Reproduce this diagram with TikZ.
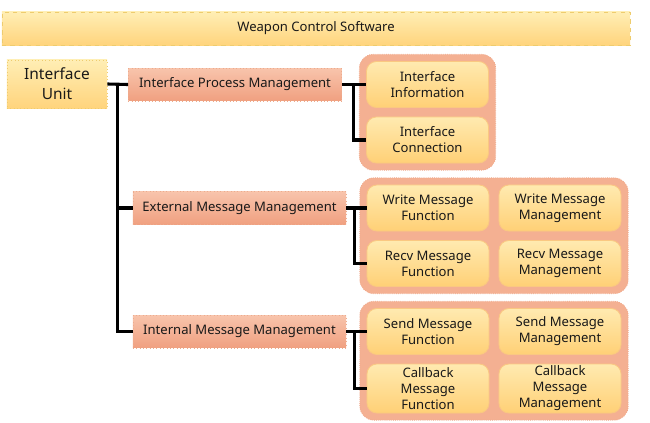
\documentclass[tikz,border=0pt]{standalone}
\usepackage{fontspec}
\setmainfont{Noto Sans}
\usetikzlibrary{calc,fit,backgrounds}
\definecolor{bannertop}{RGB}{255,238,180}
\definecolor{bannerbot}{RGB}{255,212,125}
\definecolor{bannerline}{RGB}{238,204,110}
\definecolor{salmontop}{RGB}{248,196,172}
\definecolor{salmonbot}{RGB}{240,160,128}
\definecolor{salmonline}{RGB}{236,172,142}
\definecolor{groupfill}{RGB}{244,176,146}
\definecolor{groupline}{RGB}{238,165,135}
\definecolor{itemtop}{RGB}{255,234,176}
\definecolor{itembot}{RGB}{255,208,118}
\definecolor{itemline}{RGB}{250,200,130}
\definecolor{textdark}{RGB}{25,25,25}

\tikzset{
  banner/.style={draw=bannerline,dashed,line width=0.4pt,top color=bannertop,bottom color=bannerbot,
    minimum width=15.7cm,minimum height=0.825cm,text=textdark,font=\fontsize{9.3}{11.4}\selectfont},
  unitbox/.style={draw=bannerline,dotted,line width=0.4pt,top color=bannertop,bottom color=bannerbot,
    minimum width=2.5cm,minimum height=1.2cm,align=center,text=textdark,font=\fontsize{11}{14}\selectfont},
  mgmtbox/.style={draw=salmonline,dotted,line width=0.4pt,top color=salmontop,bottom color=salmonbot,
    minimum width=5.33cm,minimum height=0.82cm,text=textdark,font=\fontsize{9.3}{11.4}\selectfont},
  itembox/.style={draw=itemline,line width=0.6pt,rounded corners=7pt,top color=itemtop,bottom color=itembot,
    minimum width=3.05cm,minimum height=1.15cm,inner sep=1pt,align=center,text=textdark,
    font=\fontsize{9.3}{11.4}\selectfont},
  grpbox/.style={draw=groupline,densely dotted,line width=0.5pt,fill=groupfill,rounded corners=10pt,inner sep=0.17cm},
  link/.style={black,line width=2.2pt}
}

\begin{document}
\begin{tikzpicture}[x=0.025cm,y=-0.025cm]
  \useasboundingbox (0,0) rectangle (650,422);

  % --- title ---
  \node[banner] (wcs) at (316,28.5) {Weapon Control Software};

  % --- left column ---
  \node[unitbox] (iu) at (57,84) {Interface\\Unit};
  \node[mgmtbox] (ipm) at (235,84.5) {Interface Process Management};
  \node[mgmtbox] (emm) at (239.5,208) {External Message Management};
  \node[mgmtbox] (imm) at (239.5,331.5) {Internal Message Management};

  % --- interface process items ---
  \node[itembox] (ii) at (427.5,84.5) {Interface\\Information};
  \node[itembox] (ic) at (427.5,140) {Interface\\Connection};

  % --- external message items ---
  \node[itembox] (wmf) at (428,208) {Write Message\\Function};
  \node[itembox] (wmm) at (560,208) {Write Message\\Management};
  \node[itembox] (rmf) at (428,263.5) {Recv Message\\Function};
  \node[itembox] (rmm) at (560,263.5) {Recv Message\\Management};

  % --- internal message items ---
  \node[itembox] (smf) at (428,331.5) {Send Message\\Function};
  \node[itembox] (smm) at (560,331.5) {Send Message\\Management};
  \node[itembox,minimum height=1.225cm] (cmf) at (428,388.5) {Callback\\Message\\Function};
  \node[itembox,minimum height=1.225cm] (cmm) at (560,388.5) {Callback\\Message\\Management};

  % --- group panels ---
  \begin{scope}[on background layer]
    \node[grpbox,fit=(ii)(ic)] (grpip) {};
    \node[grpbox,fit=(wmf)(rmm)] (grpem) {};
    \node[grpbox,fit=(smf)(cmm)] (grpim) {};
  \end{scope}

  % --- tree connectors ---
  \coordinate (trunk) at ($(iu.east)!0.5!(ipm.west)$);
  \draw[link] (iu.east) -- (ipm.west);
  \draw[link] (trunk) |- (emm.west);
  \draw[link] (trunk) |- (imm.west);

  \draw[link] (ipm.east) -- (ipm.east -| ii.west);
  \draw[link] (ipm.east) ++(12,0) |- (ic.west);
  \draw[link] (emm.east) -- (emm.east -| wmf.west);
  \draw[link] (emm.east) ++(8,0) |- (rmf.west);
  \draw[link] (imm.east) -- (imm.east -| smf.west);
  \draw[link] (imm.east) ++(8,0) |- (cmf.west);

\end{tikzpicture}
\end{document}
